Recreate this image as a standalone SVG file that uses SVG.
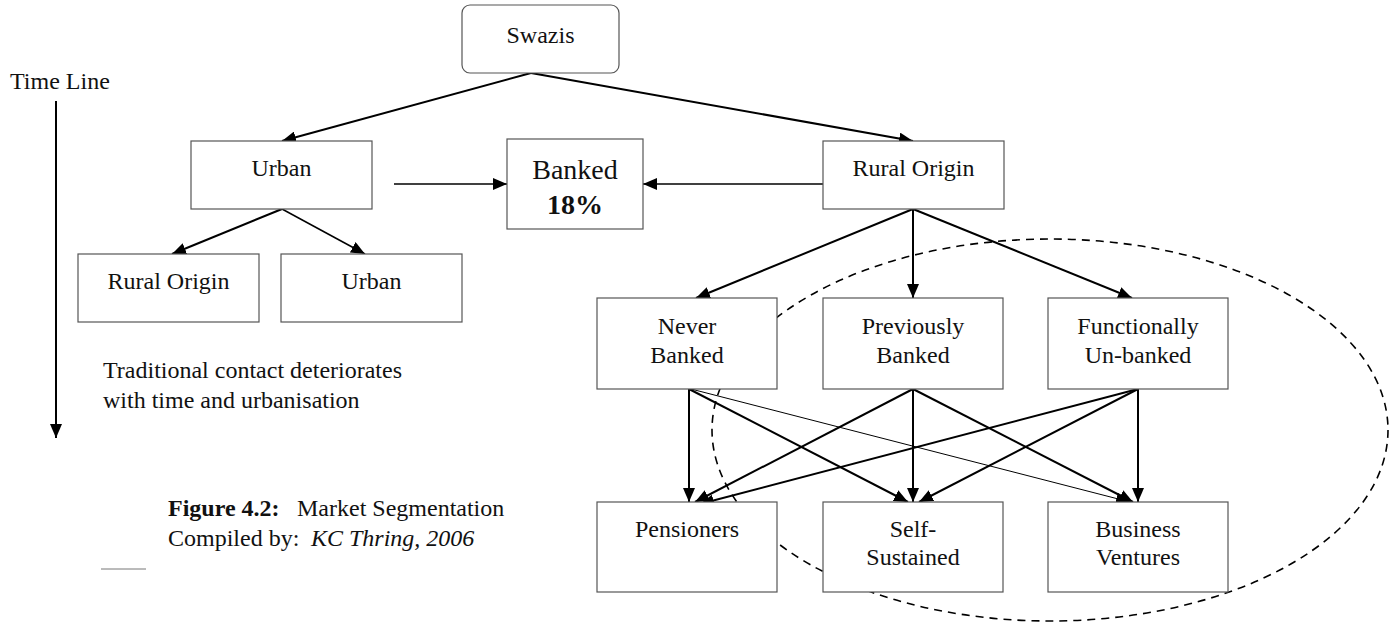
<svg xmlns="http://www.w3.org/2000/svg" width="1397" height="623" viewBox="0 0 1397 623">
  <style>
    text { font-family: "Liberation Serif", "Times New Roman", serif; font-size: 24px; fill: #111; }
    .box { fill: #fff; stroke: #555; stroke-width: 1.2; }
    .c { fill: none; stroke: #000; stroke-width: 2; marker-end: url(#ah); }
    .thin { stroke-width: 1; }
    .mid { stroke-width: 1.5; }
    .big { font-size: 28px; }
  </style>
  <defs>
    <marker id="ah" markerUnits="userSpaceOnUse" markerWidth="15" markerHeight="12" refX="14" refY="6" orient="auto">
      <path d="M0,0 L14,6 L0,12 z" fill="#000"/>
    </marker>
  </defs>

  <rect width="1397" height="623" fill="#fff"/>

  <!-- segment boundary, behind the boxes -->
  <ellipse id="segment" cx="1050" cy="430" rx="338" ry="191" fill="none" stroke="#000" stroke-width="1.6" stroke-dasharray="8,6"/>

  <!-- time line -->
  <g id="timeline">
    <text x="10" y="89">Time Line</text>
    <line x1="56" y1="101" x2="56" y2="438" class="c"/>
  </g>

  <g id="connectors">
    <line x1="531" y1="73" x2="282" y2="141" class="c"/>
    <line x1="531" y1="73" x2="913" y2="141" class="c"/>
    <line x1="282" y1="209" x2="172" y2="254" class="c"/>
    <line x1="282" y1="209" x2="365" y2="254" class="c mid"/>
    <line x1="394" y1="184" x2="507" y2="184" class="c mid"/>
    <line x1="823" y1="184" x2="643" y2="184" class="c mid"/>
    <line x1="913" y1="209" x2="696" y2="298" class="c"/>
    <line x1="913" y1="209" x2="913" y2="298" class="c"/>
    <line x1="913" y1="209" x2="1132" y2="298" class="c"/>
    <line x1="689" y1="389" x2="689" y2="502" class="c"/>
    <line x1="689" y1="389" x2="908" y2="502" class="c"/>
    <line x1="691" y1="389" x2="1130" y2="502" class="c thin"/>
    <line x1="913" y1="389" x2="695" y2="502" class="c"/>
    <line x1="913" y1="389" x2="913" y2="502" class="c"/>
    <line x1="913" y1="389" x2="1133" y2="502" class="c"/>
    <line x1="1138" y1="389" x2="700" y2="504" class="c"/>
    <line x1="1138" y1="389" x2="919" y2="502" class="c"/>
    <line x1="1138" y1="389" x2="1138" y2="502" class="c"/>
  </g>

  <g id="swazis">
    <rect x="462" y="5" width="157" height="68" rx="8" class="box"/>
    <text x="540.5" y="43" text-anchor="middle">Swazis</text>
  </g>
  <g id="urban">
    <rect x="191" y="141" width="181" height="68" class="box"/>
    <text x="281.5" y="176" text-anchor="middle">Urban</text>
  </g>
  <g id="banked">
    <rect x="507" y="139" width="136" height="90" class="box"/>
    <text x="575" y="179" text-anchor="middle" class="big">Banked</text>
    <text x="575" y="214" text-anchor="middle" class="big" font-weight="bold">18%</text>
  </g>
  <g id="rural-origin">
    <rect x="823" y="141" width="181" height="68" class="box"/>
    <text x="913.5" y="176" text-anchor="middle">Rural Origin</text>
  </g>
  <g id="urban-rural-origin">
    <rect x="78" y="254" width="181" height="68" class="box"/>
    <text x="168.5" y="289" text-anchor="middle">Rural Origin</text>
  </g>
  <g id="urban-urban">
    <rect x="281" y="254" width="181" height="68" class="box"/>
    <text x="371.5" y="289" text-anchor="middle">Urban</text>
  </g>

  <g id="never-banked">
    <rect x="597" y="298" width="180" height="91" class="box"/>
    <text x="687" y="334" text-anchor="middle">Never</text>
    <text x="687" y="363" text-anchor="middle">Banked</text>
  </g>
  <g id="previously-banked">
    <rect x="823" y="298" width="180" height="91" class="box"/>
    <text x="913" y="334" text-anchor="middle">Previously</text>
    <text x="913" y="363" text-anchor="middle">Banked</text>
  </g>
  <g id="functionally-unbanked">
    <rect x="1048" y="298" width="180" height="91" class="box"/>
    <text x="1138" y="334" text-anchor="middle">Functionally</text>
    <text x="1138" y="363" text-anchor="middle">Un-banked</text>
  </g>

  <g id="pensioners">
    <rect x="597" y="502" width="180" height="90" class="box"/>
    <text x="687" y="537" text-anchor="middle">Pensioners</text>
  </g>
  <g id="self-sustained">
    <rect x="823" y="502" width="180" height="90" class="box"/>
    <text x="913" y="537" text-anchor="middle">Self-</text>
    <text x="913" y="565" text-anchor="middle">Sustained</text>
  </g>
  <g id="business-ventures">
    <rect x="1048" y="502" width="180" height="90" class="box"/>
    <text x="1138" y="537" text-anchor="middle">Business</text>
    <text x="1138" y="565" text-anchor="middle">Ventures</text>
  </g>

  <g id="note">
    <text x="103" y="378">Traditional contact deteriorates</text>
    <text x="103" y="408">with time and urbanisation</text>
  </g>

  <g id="caption">
    <text x="168" y="516"><tspan font-weight="bold">Figure 4.2:</tspan><tspan x="297">Market Segmentation</tspan></text>
    <text x="168" y="546">Compiled by:<tspan x="311" font-style="italic">KC Thring, 2006</tspan></text>
    <line x1="101" y1="569" x2="146" y2="569" stroke="#777" stroke-width="1"/>
  </g>
</svg>
